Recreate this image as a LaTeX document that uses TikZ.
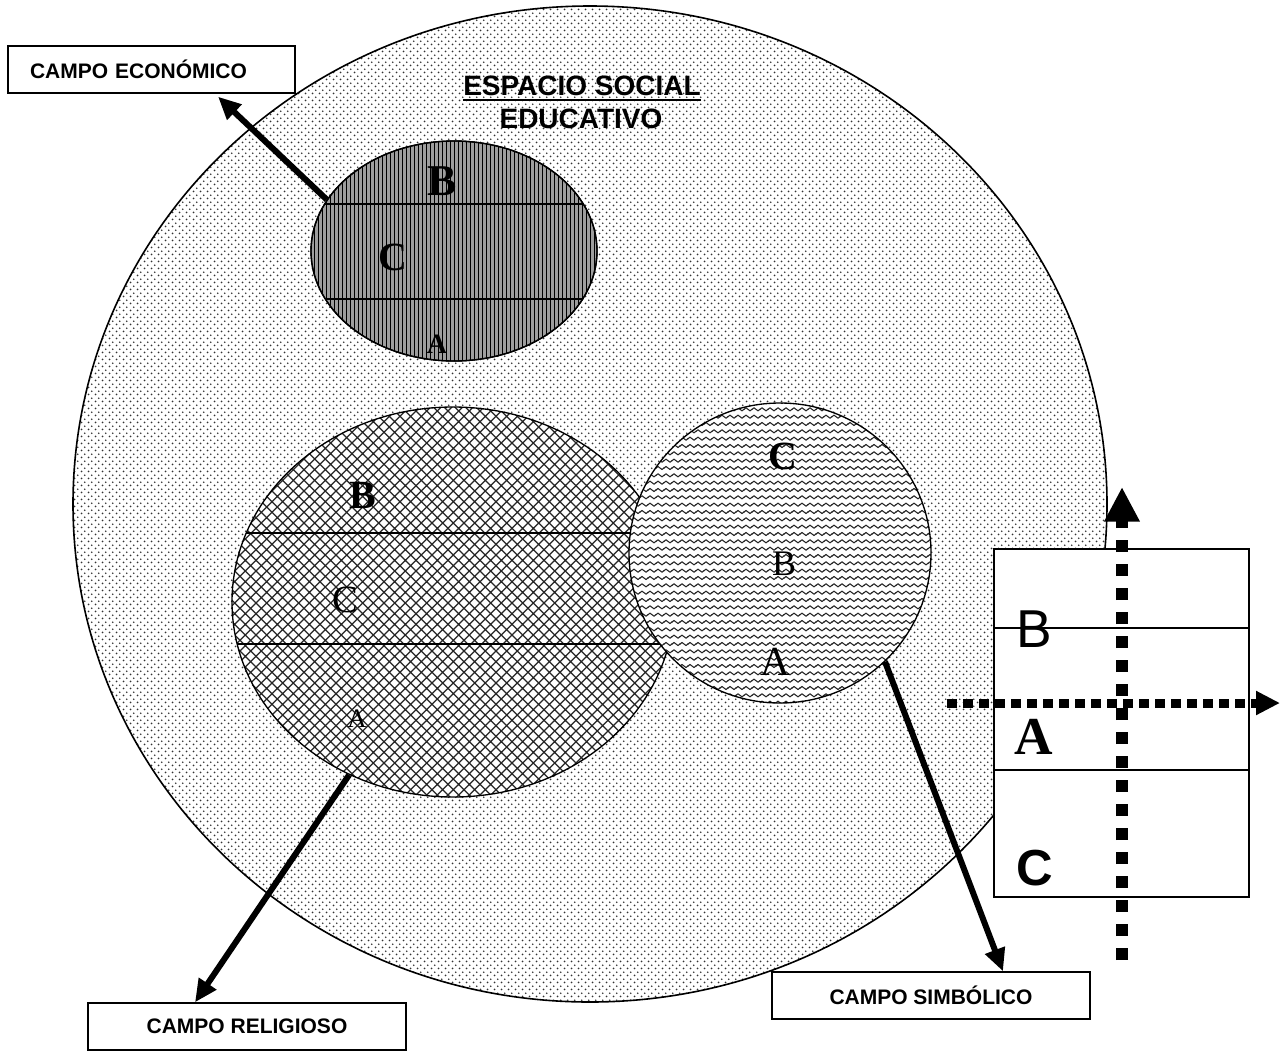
\documentclass[tikz,border=0pt]{standalone}
\usepackage{fontspec}
\setmainfont{Liberation Serif}
\setsansfont{Liberation Sans}
\usetikzlibrary{shapes.geometric,arrows.meta,patterns.meta}

% stippled background of the social space
\pgfdeclarepattern{
  name=stipple, type=uncolored,
  bottom left={\pgfpoint{0pt}{0pt}}, top right={\pgfpoint{5pt}{5pt}},
  tile size={\pgfpoint{5pt}{5pt}},
  code={
    \pgfpathcircle{\pgfpoint{1.25pt}{1.25pt}}{0.75pt}
    \pgfpathcircle{\pgfpoint{3.75pt}{3.75pt}}{0.75pt}
    \pgfusepath{fill}
  }}
% dense vertical hatching
\pgfdeclarepattern{
  name=vstripes, type=uncolored,
  bottom left={\pgfpoint{0pt}{-0.5pt}}, top right={\pgfpoint{3pt}{3.5pt}},
  tile size={\pgfpoint{3pt}{3pt}},
  code={
    \pgfsetlinewidth{0.75pt}
    \pgfpathmoveto{\pgfpoint{1.5pt}{-0.5pt}}
    \pgfpathlineto{\pgfpoint{1.5pt}{3.5pt}}
    \pgfusepath{stroke}
  }}
% diagonal cross-hatching
\pgfdeclarepattern{
  name=xhatch, type=uncolored,
  bottom left={\pgfpoint{-0.5pt}{-0.5pt}}, top right={\pgfpoint{8.5pt}{8.5pt}},
  tile size={\pgfpoint{8pt}{8pt}},
  code={
    \pgfsetlinewidth{0.9pt}
    \pgfpathmoveto{\pgfpoint{-0.5pt}{-0.5pt}}
    \pgfpathlineto{\pgfpoint{8.5pt}{8.5pt}}
    \pgfpathmoveto{\pgfpoint{-0.5pt}{8.5pt}}
    \pgfpathlineto{\pgfpoint{8.5pt}{-0.5pt}}
    \pgfusepath{stroke}
  }}
% wavy lines
\pgfdeclarepattern{
  name=waves, type=uncolored,
  bottom left={\pgfpoint{-0.5pt}{0pt}}, top right={\pgfpoint{6.5pt}{5.5pt}},
  tile size={\pgfpoint{6pt}{5.5pt}},
  code={
    \pgfsetlinewidth{0.8pt}
    \pgfpathmoveto{\pgfpoint{-0.5pt}{2.75pt}}
    \pgfpathlineto{\pgfpoint{0pt}{2.75pt}}
    \pgfpathsine{\pgfpoint{1.5pt}{1.1pt}}
    \pgfpathcosine{\pgfpoint{1.5pt}{-1.1pt}}
    \pgfpathsine{\pgfpoint{1.5pt}{-1.1pt}}
    \pgfpathcosine{\pgfpoint{1.5pt}{1.1pt}}
    \pgfpathlineto{\pgfpoint{6.5pt}{2.75pt}}
    \pgfusepath{stroke}
  }}

\tikzset{
  field/.style={ellipse, inner sep=0pt, draw=black, line width=1pt},
  labelbox/.style={rectangle, draw=black, line width=1pt, fill=white, inner sep=0pt,
    font=\sffamily\bfseries\fontsize{15.75}{18}\selectfont},
  letter/.style={inner sep=0pt, anchor=base},
  divider/.style={line width=1pt},
  bigarrow/.style={line width=4.5pt, -{Triangle[length=17pt,width=15pt]}},
}

\begin{document}
\begin{tikzpicture}[x=0.75pt, y=-0.75pt]
\useasboundingbox (0,0) rectangle (1281,1051);

% social space
\node[field, line width=1.2pt, minimum width=775.5pt, minimum height=747pt,
  preaction={fill=white}, pattern=stipple, pattern color=black!80] (space) at (590,504) {};
\node[letter, font=\sffamily\bfseries\fontsize{21}{24}\selectfont] (t1) at (582,95) {ESPACIO SOCIAL};
\node[letter, font=\sffamily\bfseries\fontsize{21}{24}\selectfont] (t2) at (581,128) {EDUCATIVO};
\draw[line width=1.5pt] ([yshift=-3.75pt]t1.base west) -- ([yshift=-3.75pt]t1.base east);

% economic field
\node[field, minimum width=214.5pt, minimum height=165pt,
  preaction={fill=black!38}, pattern=vstripes, pattern color=black] (eco) at (454,251) {};
\begin{scope}
  \clip (454,251) ellipse [x radius=143, y radius=110];
  \draw[divider] (300,204) -- (610,204);
  \draw[divider] (300,299) -- (610,299);
\end{scope}
\draw[line width=1pt] (454,251) ellipse [x radius=143, y radius=110];
\node[letter, font=\bfseries\fontsize{33}{36}\selectfont] (ecoB) at (442,195) {B};
\node[letter, font=\bfseries\fontsize{30}{34}\selectfont] (ecoC) at (393,270) {C};
\node[letter, font=\bfseries\fontsize{21}{24}\selectfont] (ecoA) at (437,353) {A};

% religious field
\node[field, minimum width=331.5pt, minimum height=292.5pt,
  preaction={fill=white}, pattern=xhatch, pattern color=black!85] (rel) at (453,602) {};
\begin{scope}
  \clip (453,602) ellipse [x radius=221, y radius=195];
  \draw[divider] (220,533) -- (700,533);
  \draw[divider] (220,644) -- (700,644);
\end{scope}
\node[letter, font=\bfseries\fontsize{30}{34}\selectfont] (relB) at (363,508) {B};
\node[letter, font=\fontsize{29}{32}\selectfont] (relC) at (345,612) {C};
\node[letter, font=\fontsize{20}{24}\selectfont] (relA) at (357,727) {A};

% symbolic field
\node[field, minimum width=226.5pt, minimum height=225pt,
  preaction={fill=white}, pattern=waves, pattern color=black!85] (sym) at (780,553) {};
\node[letter, font=\bfseries\fontsize{30}{34}\selectfont] (symC) at (783,469) {C};
\node[letter, font=\fontsize{27}{30}\selectfont] (symB) at (784,575) {B};
\node[letter, font=\fontsize{31}{34}\selectfont] (symA) at (775,675) {A};

% position table
\node[rectangle, draw=black, line width=1pt, fill=white, inner sep=0pt,
  minimum width=191.25pt, minimum height=261pt] (table) at (1121.5,723) {};
\draw[divider] (table.west |- 0,628) -- (table.east |- 0,628);
\draw[divider] (table.west |- 0,770) -- (table.east |- 0,770);
\node[letter, font=\sffamily\fontsize{40}{44}\selectfont] (tabB) at (1034.5,647) {B};
\node[letter, font=\bfseries\fontsize{40}{44}\selectfont] (tabA) at (1034,754) {A};
\node[letter, font=\sffamily\bfseries\fontsize{38}{42}\selectfont] (tabC) at (1035,885) {C};

% axes
\coordinate (vbottom) at (1122,960);
\coordinate (vtop) at (1122,487);
\coordinate (hleft) at (947,703);
\coordinate (hright) at (1280,703);
\draw[line width=9pt, dash pattern=on 9pt off 9pt,
  -{Triangle[length=26pt,width=25pt]}] (vbottom) -- (vtop);
\draw[line width=6.75pt, dash pattern=on 7.5pt off 4.5pt,
  -{Triangle[length=18pt,width=17pt]}] (hleft) -- (hright);

% field labels
\node[labelbox, text width=182.25pt, inner xsep=16.5pt, align=left,
  minimum height=35.25pt] (ecobox) at (151.5,69.5) {CAMPO ECONÓMICO};
\node[labelbox, minimum width=238.5pt, minimum height=35.25pt] (relbox) at (247,1026.5) {CAMPO RELIGIOSO};
\node[labelbox, minimum width=238.5pt, minimum height=35.25pt] (symbox) at (931,995.5) {CAMPO SIMBÓLICO};

% connectors
\draw[bigarrow] (eco.158.7) -- ([xshift=49.9pt,yshift=-2.25pt]ecobox.south);
\draw[bigarrow] (rel.239.2) -- ([xshift=-39pt]relbox.north);
\draw[bigarrow] (sym.314.7) -- ([xshift=54pt]symbox.north);
\end{tikzpicture}
\end{document}
